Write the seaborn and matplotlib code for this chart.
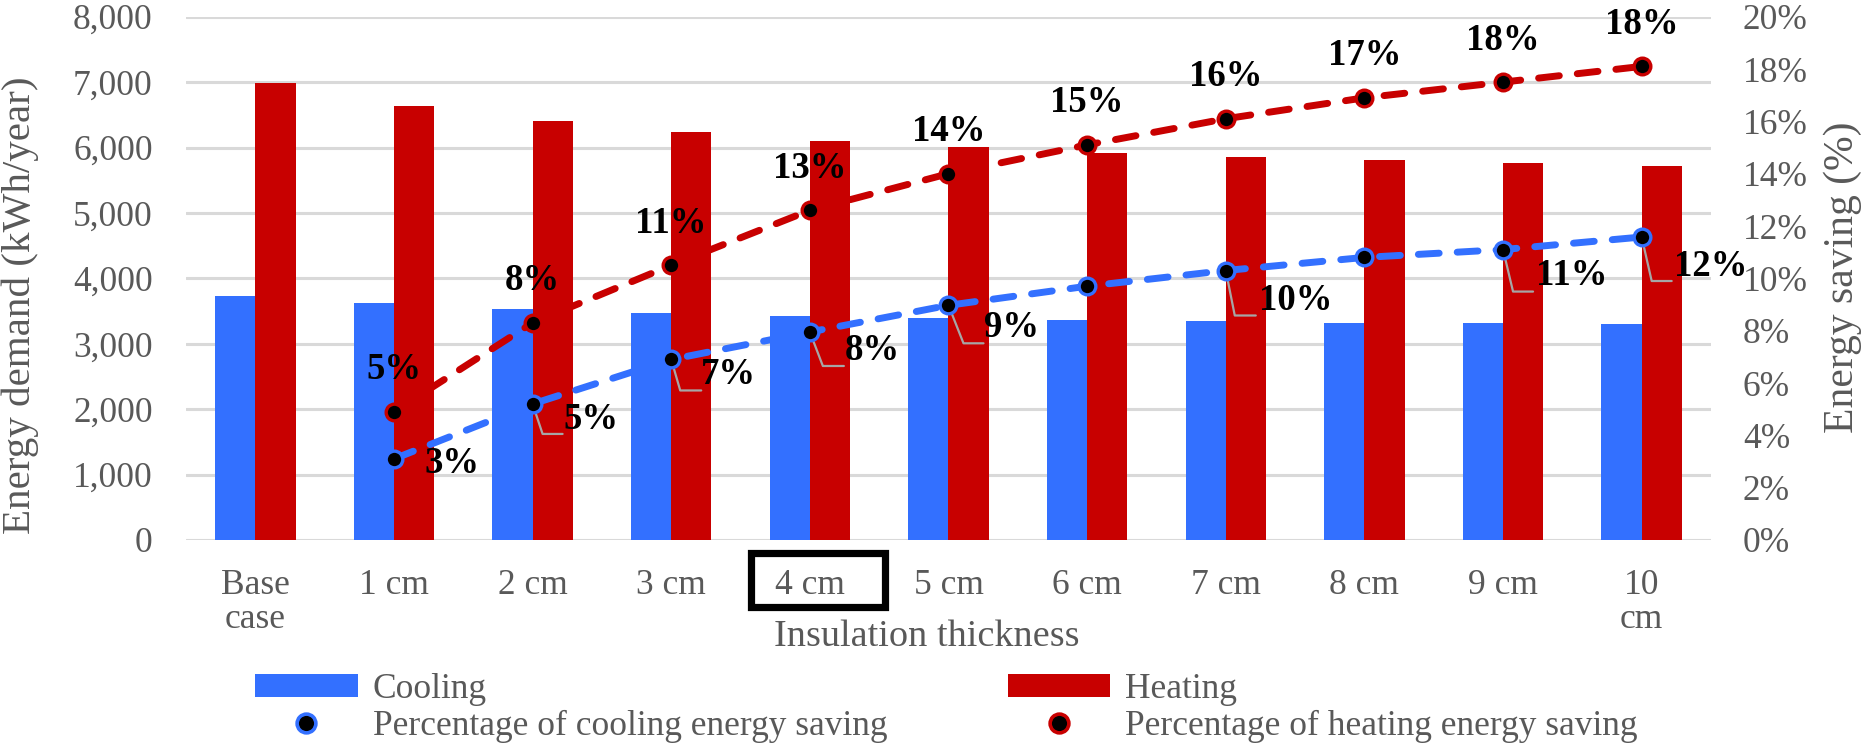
import matplotlib
matplotlib.use('Agg')
import matplotlib.pyplot as plt
import matplotlib.ticker as mticker
import matplotlib.transforms as mtransforms
from matplotlib.patches import Patch, Rectangle
from matplotlib.lines import Line2D
import seaborn as sns
import pandas as pd

# ── data ─────────────────────────────────────────────────
thickness = ["Base\ncase", "1 cm", "2 cm", "3 cm", "4 cm", "5 cm",
             "6 cm", "7 cm", "8 cm", "9 cm", "10\ncm"]
cooling = [3729, 3620, 3538, 3468, 3428, 3395, 3368, 3347, 3325, 3314, 3297]
heating = [6990, 6640, 6405, 6243, 6105, 6007, 5919, 5862, 5802, 5764, 5720]

saving_pos = [1, 2, 3, 4, 5, 6, 7, 8, 9, 10]
cooling_saving = [3.1, 5.2, 6.9, 7.95, 8.97, 9.7, 10.3, 10.8, 11.1, 11.58]
heating_saving = [4.9, 8.3, 10.5, 12.6, 14.0, 15.1, 16.1, 16.9, 17.5, 18.1]
cooling_labels = ["3%", "5%", "7%", "8%", "9%", "", "10%", "", "11%", "12%"]
heating_labels = ["5%", "8%", "11%", "13%", "14%", "15%", "16%", "17%", "18%", "18%"]

# ── style ────────────────────────────────────────────────
BLUE = "#3370FF"
RED = "#C80000"
GREY = "#595959"
GRID = "#D9D9D9"
LEADER = "#A6A6A6"

sns.set_theme(style="white")
plt.rcParams['font.family'] = ['Liberation Serif', 'DejaVu Serif']

# cooling label placement in pixels: (label dx, label dy, corner dx, corner dy, end dx)
# dy positive = downwards, None = no leader line
cool_offsets = [(31, 5, None, None, None), (31, 16, 10, 30, 30), (30, 15, 9, 31, 30),
                (35, 19, 13, 34, 34), (36, 22, 15, 38, 35), None,
                (33, 30, 9, 45, 30), None, (33, 26, 10, 42, 30), (32, 29, 10, 44, 30)]

df = pd.DataFrame({
    'Thickness': thickness * 2,
    'Load': ['Cooling'] * len(thickness) + ['Heating'] * len(thickness),
    'Energy': cooling + heating,
})

fig = plt.figure(figsize=(18.65, 7.45), dpi=100, facecolor='white')
ax = fig.add_axes([186 / 1865, 1 - 540 / 745, 1525 / 1865, 523.3 / 745])

sns.barplot(data=df, x='Thickness', y='Energy', hue='Load', order=thickness,
            palette=[BLUE, RED], width=0.58, gap=0, saturation=1,
            legend=False, ax=ax, zorder=2)
for p in ax.patches:
    p.set_edgecolor('none')

ax.set_xlim(-0.5, 10.5)
ax.set_ylim(0, 8000)
ax.set_yticks(range(0, 8001, 1000))
ax.yaxis.set_major_formatter(mticker.StrMethodFormatter('{x:,.0f}'))
ax.grid(axis='y', color=GRID, linewidth=2.2, zorder=0)
ax.grid(axis='x', visible=False)
ax.set_axisbelow(True)
for s in ax.spines.values():
    s.set_visible(False)
ax.set_xlabel("")
ax.set_ylabel("")
ax.set_xticks(range(len(thickness)))
ax.set_xticklabels(thickness, linespacing=1.05)
ax.tick_params(axis='x', length=0, pad=21, labelsize=25.5, labelcolor=GREY)
ax.tick_params(axis='y', length=0, pad=24, labelsize=25.5, labelcolor=GREY)

# secondary axis for the savings
ax2 = ax.twinx()
ax2.set_ylim(0, 20)
ax2.set_yticks(range(0, 21, 2))
ax2.yaxis.set_major_formatter(mticker.StrMethodFormatter('{x:.0f}%'))
ax2.tick_params(axis='y', length=0, pad=23, labelsize=25.5, labelcolor=GREY)
ax2.grid(False)
for s in ax2.spines.values():
    s.set_visible(False)

for vals, col in [(cooling_saving, BLUE), (heating_saving, RED)]:
    ln, = ax2.plot(saving_pos, vals, color=col, lw=5, marker='o', ms=12,
                   mfc='black', mec=col, mew=2.4, zorder=4)
    ln.set_dashes((3.0, 2.6))
    ln.set_dash_capstyle('round')

px = mtransforms.Affine2D().scale(1, -1)  # pixel offsets, y downwards
for x, y, lab in zip(saving_pos, heating_saving, heating_labels):
    ax2.annotate(lab, (x, y), xytext=(0, 42 / 1.389), textcoords='offset points',
                 ha='center', va='center', fontsize=26.5, fontweight='bold',
                 color='black', zorder=6)

for x, y, lab, off in zip(saving_pos, cooling_saving, cooling_labels, cool_offsets):
    if not lab:
        continue
    ldx, ldy, cdx, cdy, edx = off
    ax2.annotate(lab, (x, y), xytext=(ldx / 1.389, -ldy / 1.389),
                 textcoords='offset points', ha='left', va='center',
                 fontsize=26.5, fontweight='bold', color='black', zorder=6)
    if cdx is not None:
        tr = px + mtransforms.ScaledTranslation(x, y, ax2.transData)
        ax2.add_line(Line2D([0, cdx, edx], [0, cdy, cdy], color=LEADER,
                            lw=1.6, transform=tr, zorder=3))

# box around the chosen thickness
box_tr = mtransforms.blended_transform_factory(ax.transData, ax.transAxes)
ax.add_patch(Rectangle((3.576, -0.1288), 0.965, 0.1047, transform=box_tr,
                       fill=False, edgecolor='black', lw=5.2, clip_on=False,
                       zorder=5))

# axis titles
fig.text(927 / 1865, 1 - 637 / 745, "Insulation thickness", ha='center',
         va='center', fontsize=27.5, color=GREY)
fig.text(20 / 1865, 1 - 305 / 745, "Energy demand (kWh/year)", rotation=90,
         ha='center', va='center', fontsize=29.5, color=GREY)
fig.text(1843 / 1865, 1 - 277 / 745, "Energy saving (%)", rotation=90,
         ha='center', va='center', fontsize=30, color=GREY)

# legend
handles = [
    Patch(facecolor=BLUE, edgecolor='none'),
    Line2D([], [], ls='none', marker='o', ms=13.5, mfc='black', mec=BLUE, mew=2.6),
    Patch(facecolor=RED, edgecolor='none'),
    Line2D([], [], ls='none', marker='o', ms=13.5, mfc='black', mec=RED, mew=2.6),
]
labels = ["Cooling", "Percentage of cooling energy saving",
          "Heating", "Percentage of heating energy saving"]
leg = fig.legend(handles, labels, ncol=2, loc='upper left',
                 bbox_to_anchor=(255 / 1865, 1 - 673 / 745), frameon=False,
                 fontsize=25.5, handlelength=2.9, handleheight=0.6,
                 handletextpad=0.42, columnspacing=3.4, labelspacing=0.12,
                 borderpad=0, borderaxespad=0)
for t in leg.get_texts():
    t.set_color(GREY)

fig.savefig("out.png", dpi=100, facecolor='white')
